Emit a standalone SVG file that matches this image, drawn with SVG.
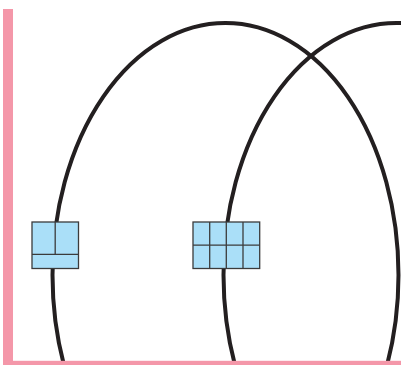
<svg xmlns="http://www.w3.org/2000/svg" width="401" height="365" viewBox="0 0 401 365">
  <style>
    .orbit { fill: none; stroke: #231f20; stroke-width: 4; }
    .box { fill: #aadff8; stroke: #3b3b3b; stroke-width: 1.3; }
    .div { fill: none; stroke: #3b3b3b; stroke-width: 1.3; }
    .axis { fill: #f497a9; }
  </style>
  <rect width="401" height="365" fill="#ffffff"/>
  <g id="connectors">
    <ellipse class="orbit" cx="225.5" cy="275" rx="173" ry="252"/>
    <ellipse class="orbit" cx="396.5" cy="275" rx="173" ry="252"/>
  </g>
  <g id="box1">
    <rect class="box" x="32" y="222" width="46.5" height="46.5"/>
    <line class="div" x1="32" y1="254.3" x2="78.5" y2="254.3"/>
    <line class="div" x1="55.2" y1="222" x2="55.2" y2="254.3"/>
  </g>
  <g id="box2">
    <rect class="box" x="193" y="222" width="66.7" height="46.5"/>
    <line class="div" x1="193" y1="245.2" x2="259.7" y2="245.2"/>
    <line class="div" x1="209.7" y1="222" x2="209.7" y2="268.5"/>
    <line class="div" x1="226.3" y1="222" x2="226.3" y2="268.5"/>
    <line class="div" x1="243" y1="222" x2="243" y2="268.5"/>
  </g>
  <g id="axes">
    <rect class="axis" x="3" y="9" width="10" height="356"/>
    <rect class="axis" x="3" y="360.8" width="398" height="4.2"/>
  </g>
</svg>
